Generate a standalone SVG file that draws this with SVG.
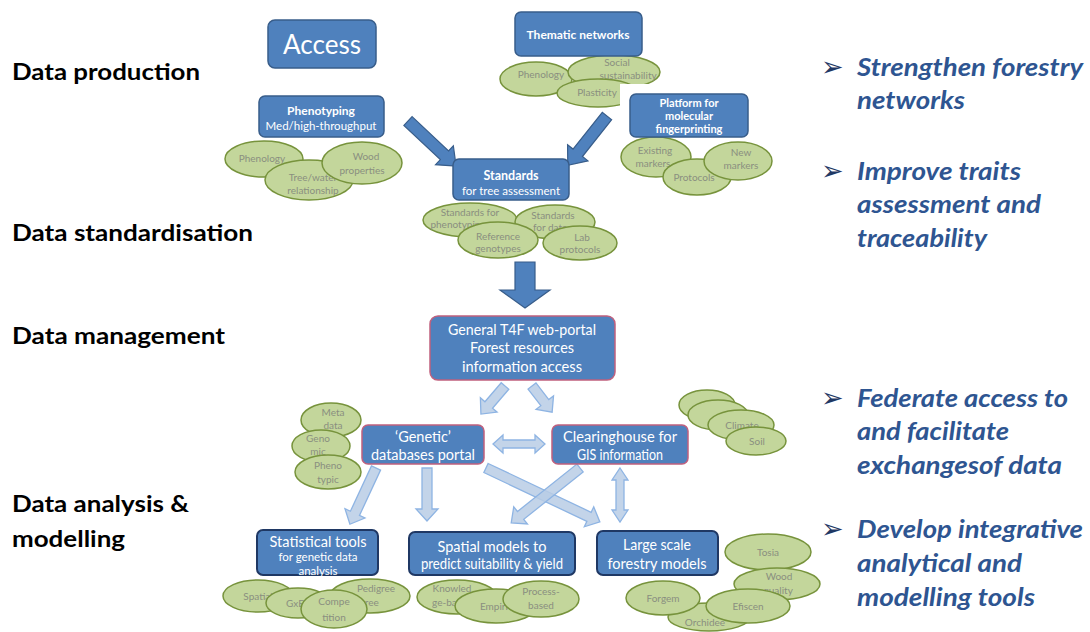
<svg xmlns="http://www.w3.org/2000/svg" width="1090" height="632" viewBox="0 0 1090 632">
<style>
.bg{fill:#ffffff}
.lbl{font-family:Lato,"Liberation Sans",sans-serif;font-weight:bold;font-size:22px;fill:#000}
.goal{font-family:Lato,"Liberation Sans",sans-serif;font-weight:bold;font-style:italic;font-size:24px;fill:#2e5591}
.bul{font-family:"DejaVu Sans",sans-serif;font-size:27px;fill:#1f3864}
.box{fill:#4f81bd;stroke:#385d8a;stroke-width:1.5}
.boxp{fill:#4f81bd;stroke:#c0607e;stroke-width:1.5}
.boxd{fill:#4f81bd;stroke:#1f3864;stroke-width:2}
.bt{font-family:Lato,"Liberation Sans",sans-serif;fill:#fff;text-anchor:middle}
.ell{fill:#c3d69b;stroke:#77933c;stroke-width:1.5}
.et{font-family:Lato,"Liberation Sans",sans-serif;font-size:10px;fill:#8a8f80;text-anchor:middle}
.da{fill:#4f81bd;stroke:#385d8a;stroke-width:1.2}
.la{fill:#b9cde5;fill-opacity:0.85;stroke:#8eb4e3;stroke-width:1.3}
</style>
<rect class="bg" x="0" y="0" width="1090" height="632"/>

<g id="stage-labels">
<text class="lbl" x="12" y="80" textLength="188" lengthAdjust="spacingAndGlyphs">Data production</text>
<text class="lbl" x="12" y="241" textLength="241" lengthAdjust="spacingAndGlyphs">Data standardisation</text>
<text class="lbl" x="12" y="344" textLength="213" lengthAdjust="spacingAndGlyphs">Data management</text>
<text class="lbl" x="12" y="512" textLength="177" lengthAdjust="spacingAndGlyphs">Data analysis &amp;</text>
<text class="lbl" x="12" y="547" textLength="113" lengthAdjust="spacingAndGlyphs">modelling</text>
</g>

<g id="goals">
<text class="bul" x="821" y="76">➢</text>
<text class="goal" x="857" y="76" textLength="226" lengthAdjust="spacingAndGlyphs">Strengthen forestry</text>
<text class="goal" x="857" y="109" textLength="108" lengthAdjust="spacingAndGlyphs">networks</text>
<text class="bul" x="821" y="180">➢</text>
<text class="goal" x="857" y="180" textLength="164" lengthAdjust="spacingAndGlyphs">Improve traits</text>
<text class="goal" x="857" y="213" textLength="184" lengthAdjust="spacingAndGlyphs">assessment and</text>
<text class="goal" x="857" y="247" textLength="130" lengthAdjust="spacingAndGlyphs">traceability</text>
<text class="bul" x="821" y="407">➢</text>
<text class="goal" x="857" y="407" textLength="211" lengthAdjust="spacingAndGlyphs">Federate access to</text>
<text class="goal" x="857" y="440" textLength="152" lengthAdjust="spacingAndGlyphs">and facilitate</text>
<text class="goal" x="857" y="474" textLength="205" lengthAdjust="spacingAndGlyphs">exchangesof data</text>
<text class="bul" x="821" y="538">➢</text>
<text class="goal" x="857" y="538" textLength="226" lengthAdjust="spacingAndGlyphs">Develop integrative</text>
<text class="goal" x="857" y="572" textLength="165" lengthAdjust="spacingAndGlyphs">analytical and</text>
<text class="goal" x="857" y="606" textLength="178" lengthAdjust="spacingAndGlyphs">modelling tools</text>
</g>

<g id="connectors">
<path class="da" transform="translate(408,121) rotate(43.2)" d="M0,-6 H50 V-13 L66,0 L50,13 V6 H0 Z"/>
<path class="da" transform="translate(607,116) rotate(128.5)" d="M0,-6 H47 V-13 L63,0 L47,13 V6 H0 Z"/>
<path class="da" transform="translate(525,262) rotate(90)" d="M0,-10 H28 V-25 L46,0 L28,25 V10 H0 Z"/>
<path class="la" transform="translate(505,386) rotate(130.6)" d="M0,-5 H25 V-11 L37,0 L25,11 V5 H0 Z"/>
<path class="la" transform="translate(532,386) rotate(52.4)" d="M0,-5 H21 V-11 L33,0 L21,11 V5 H0 Z"/>
<path class="la" transform="translate(493,444)" d="M0,0 L10,-9 V-4 H42 V-9 L52,0 L42,9 V4 H10 V9 Z"/>
<path class="la" transform="translate(376,468) rotate(114.9)" d="M0,-5 H50 V-11 L62,0 L50,11 V5 H0 Z"/>
<path class="la" transform="translate(427,468) rotate(90)" d="M0,-5 H41 V-11 L53,0 L41,11 V5 H0 Z"/>
<path class="la" transform="translate(486,468) rotate(25.35)" d="M0,-5 H114 V-11 L126,0 L114,11 V5 H0 Z"/>
<path class="la" transform="translate(580,468) rotate(141.4)" d="M0,-5 H76 V-11 L88,0 L76,11 V5 H0 Z"/>
<path class="la" transform="translate(620,468) rotate(90)" d="M0,0 L12,-8 V-4 H42 V-8 L54,0 L42,8 V4 H12 V8 Z"/>
</g>

<g id="access">
<rect class="box" x="268" y="20" width="108" height="48" rx="7"/>
<text class="bt" x="322" y="54" font-size="26" textLength="78" lengthAdjust="spacingAndGlyphs">Access</text>
</g>

<g id="thematic-networks">
<ellipse class="ell" cx="536" cy="79" rx="36" ry="17"/>
<text class="et" x="541" y="78">Phenology</text>
<ellipse class="ell" cx="614" cy="72" rx="46" ry="17"/>
<text class="et" x="617" y="66">Social</text>
<text class="et" x="628" y="79">sustainability</text>
<ellipse class="ell" cx="598" cy="93" rx="41" ry="14"/>
<text class="et" x="597" y="96">Plasticity</text>
<rect class="box" x="515" y="12" width="127" height="44" rx="6"/>
<text class="bt" x="578" y="39" font-size="12" font-weight="bold">Thematic networks</text>
</g>

<g id="phenotyping">
<ellipse class="ell" cx="264" cy="159" rx="39" ry="18"/>
<text class="et" x="262" y="162">Phenology</text>
<ellipse class="ell" cx="309" cy="180" rx="44" ry="20"/>
<text class="et" x="313" y="181">Tree/water</text>
<text class="et" x="313" y="194">relationship</text>
<ellipse class="ell" cx="362" cy="163" rx="40" ry="21"/>
<text class="et" x="366" y="160">Wood</text>
<text class="et" x="362" y="174">properties</text>
<rect class="box" x="259" y="96" width="125" height="41" rx="6"/>
<text class="bt" x="321" y="115" font-size="12" font-weight="bold">Phenotyping</text>
<text class="bt" x="321" y="130" font-size="11.5">Med/high-throughput</text>
</g>

<g id="platform">
<rect x="620" y="84" width="60" height="26" fill="#fff"/>
<ellipse class="ell" cx="656" cy="157" rx="35" ry="20"/>
<text class="et" x="655" y="154">Existing</text>
<text class="et" x="653" y="167">markers</text>
<ellipse class="ell" cx="697" cy="177" rx="34" ry="18"/>
<text class="et" x="694" y="181">Protocols</text>
<ellipse class="ell" cx="738" cy="161" rx="34" ry="19"/>
<text class="et" x="741" y="156">New</text>
<text class="et" x="741" y="169">markers</text>
<rect class="box" x="630" y="94" width="118" height="43" rx="6"/>
<text class="bt" x="689" y="107" font-size="11" font-weight="bold">Platform for</text>
<text class="bt" x="689" y="120" font-size="11" font-weight="bold">molecular</text>
<text class="bt" x="689" y="133" font-size="11" font-weight="bold">fingerprinting</text>
</g>

<g id="standards">
<ellipse class="ell" cx="470" cy="220" rx="47" ry="17"/>
<text class="et" x="470" y="216">Standards for</text>
<text class="et" x="458" y="228">phenotyping</text>
<ellipse class="ell" cx="555" cy="222" rx="40" ry="17"/>
<text class="et" x="553" y="219">Standards</text>
<text class="et" x="550" y="231">for data</text>
<ellipse class="ell" cx="498" cy="240" rx="40" ry="18"/>
<text class="et" x="498" y="240">Reference</text>
<text class="et" x="498" y="252">genotypes</text>
<ellipse class="ell" cx="580" cy="243" rx="37" ry="17"/>
<text class="et" x="582" y="241">Lab</text>
<text class="et" x="580" y="253">protocols</text>
<rect class="box" x="453" y="159" width="116" height="41" rx="6"/>
<text class="bt" x="511" y="180" font-size="12.5" font-weight="bold">Standards</text>
<text class="bt" x="511" y="195" font-size="11.5">for tree assessment</text>
</g>

<g id="web-portal">
<rect class="boxp" x="430" y="316" width="185" height="64" rx="8"/>
<text class="bt" x="522" y="335" font-size="15" textLength="148" lengthAdjust="spacingAndGlyphs">General T4F web-portal</text>
<text class="bt" x="522" y="353" font-size="15" textLength="104" lengthAdjust="spacingAndGlyphs">Forest resources</text>
<text class="bt" x="522" y="372" font-size="15" textLength="120" lengthAdjust="spacingAndGlyphs">information access</text>
</g>

<g id="genetic-portal">
<ellipse class="ell" cx="331" cy="420" rx="30" ry="17"/>
<text class="et" x="333" y="416">Meta</text>
<text class="et" x="333" y="429">data</text>
<ellipse class="ell" cx="321" cy="446" rx="29" ry="16"/>
<text class="et" x="318" y="442">Geno</text>
<text class="et" x="318" y="455">mic</text>
<ellipse class="ell" cx="328" cy="472" rx="33" ry="17"/>
<text class="et" x="328" y="469">Pheno</text>
<text class="et" x="328" y="483">typic</text>
<rect class="boxp" x="362" y="425" width="122" height="39" rx="6"/>
<text class="bt" x="423" y="442" font-size="14.5">‘Genetic’</text>
<text class="bt" x="423" y="460" font-size="14.5" textLength="104" lengthAdjust="spacingAndGlyphs">databases portal</text>
</g>

<g id="clearinghouse">
<ellipse class="ell" cx="707" cy="405" rx="28" ry="15"/>
<ellipse class="ell" cx="718" cy="415" rx="30" ry="15"/>
<ellipse class="ell" cx="741" cy="425" rx="33" ry="15"/>
<text class="et" x="742" y="429">Climate</text>
<ellipse class="ell" cx="756" cy="441" rx="30" ry="14"/>
<text class="et" x="757" y="445">Soil</text>
<rect class="boxp" x="552" y="425" width="136" height="39" rx="6"/>
<text class="bt" x="620" y="442" font-size="14.5" textLength="114" lengthAdjust="spacingAndGlyphs">Clearinghouse for</text>
<text class="bt" x="620" y="460" font-size="14.5" textLength="86" lengthAdjust="spacingAndGlyphs">GIS information</text>
</g>

<g id="statistical-tools">
<rect class="boxd" x="257" y="530" width="121" height="45" rx="6"/>
<text class="bt" x="318" y="547" font-size="15" textLength="97" lengthAdjust="spacingAndGlyphs">Statistical tools</text>
<text class="bt" x="318" y="561" font-size="11.5">for genetic data</text>
<text class="bt" x="318" y="575" font-size="11.5">analysis</text>
<ellipse class="ell" cx="258" cy="596" rx="35" ry="16"/>
<text class="et" x="258" y="600">Spatial</text>
<ellipse class="ell" cx="298" cy="603" rx="32" ry="15"/>
<text class="et" x="295" y="607">GxE</text>
<ellipse class="ell" cx="370" cy="596" rx="40" ry="17"/>
<text class="et" x="376" y="592">Pedigree</text>
<text class="et" x="370" y="606">tree</text>
<ellipse class="ell" cx="334" cy="609" rx="33" ry="19"/>
<text class="et" x="334" y="605">Compe</text>
<text class="et" x="334" y="621">tition</text>
</g>

<g id="spatial-models">
<rect class="boxd" x="409" y="532" width="166" height="43" rx="6"/>
<text class="bt" x="492" y="552" font-size="15" textLength="109" lengthAdjust="spacingAndGlyphs">Spatial models to</text>
<text class="bt" x="492" y="569" font-size="15" textLength="142" lengthAdjust="spacingAndGlyphs">predict suitability &amp; yield</text>
<ellipse class="ell" cx="457" cy="597" rx="40" ry="17"/>
<text class="et" x="452" y="592">Knowled</text>
<text class="et" x="452" y="606">ge-based</text>
<ellipse class="ell" cx="496" cy="606" rx="41" ry="17"/>
<text class="et" x="500" y="610">Empirical</text>
<ellipse class="ell" cx="541" cy="599" rx="38" ry="18"/>
<text class="et" x="541" y="595">Process-</text>
<text class="et" x="541" y="609">based</text>
</g>

<g id="large-scale-models">
<rect class="boxd" x="597" y="531" width="121" height="44" rx="6"/>
<text class="bt" x="657" y="550" font-size="15" textLength="68" lengthAdjust="spacingAndGlyphs">Large scale</text>
<text class="bt" x="657" y="569" font-size="15" textLength="99" lengthAdjust="spacingAndGlyphs">forestry models</text>
<ellipse class="ell" cx="768" cy="552" rx="43" ry="18"/>
<text class="et" x="768" y="556">Tosia</text>
<ellipse class="ell" cx="777" cy="584" rx="43" ry="16"/>
<text class="et" x="779" y="580">Wood</text>
<text class="et" x="778" y="594">quality</text>
<ellipse class="ell" cx="709" cy="617" rx="41" ry="14"/>
<text class="et" x="705" y="626">Orchidee</text>
<ellipse class="ell" cx="663" cy="598" rx="37" ry="17"/>
<text class="et" x="663" y="602">Forgem</text>
<ellipse class="ell" cx="748" cy="606" rx="42" ry="17"/>
<text class="et" x="748" y="610">Efiscen</text>
</g>
</svg>
